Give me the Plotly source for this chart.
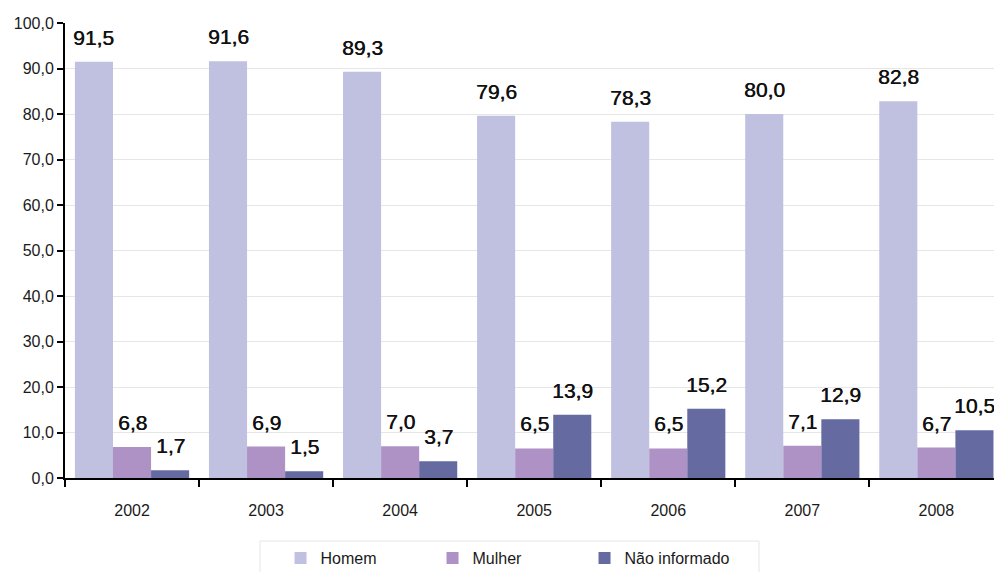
import plotly.graph_objects as go

years = ["2002", "2003", "2004", "2005", "2006", "2007", "2008"]
homem = [91.5, 91.6, 89.3, 79.6, 78.3, 80.0, 82.8]
mulher = [6.8, 6.9, 7.0, 6.5, 6.5, 7.1, 6.7]
nao_informado = [1.7, 1.5, 3.7, 13.9, 15.2, 12.9, 10.5]

series = [
    ("Homem", homem, "#C0C0E0"),
    ("Mulher", mulher, "#AE92C5"),
    ("Não informado", nao_informado, "#656AA0"),
]

FONT = "Liberation Sans, Arial, sans-serif"
bar_w = 0.284
offsets = [-bar_w, 0.0, bar_w]

fig = go.Figure()
annotations = []
for (name, vals, color), off in zip(series, offsets):
    xs = [i + off for i in range(len(years))]
    fig.add_trace(go.Bar(
        x=xs, y=vals, width=bar_w, name=name,
        marker=dict(color=color, line=dict(width=0)),
    ))
    for x, v in zip(xs, vals):
        annotations.append(dict(
            x=x, y=v, xref="x", yref="y",
            text=f"{v:.1f}".replace(".", ","),
            showarrow=False, yanchor="bottom", yshift=11,
            font=dict(family=FONT, size=21, color="#111111",
                      shadow="0.6px 0 0 #111111"),
        ))

# frame around the legend, wider than the legend's own box
fig.add_shape(
    type="rect", xref="paper", yref="paper",
    x0=0.2099, x1=0.747, y0=-0.30, y1=-0.1385,
    line=dict(color="#E6E6E6", width=1), fillcolor="rgba(0,0,0,0)",
    layer="below",
)

fig.update_layout(
    width=994, height=572,
    margin=dict(l=65, r=0, t=23, b=94, autoexpand=False),
    paper_bgcolor="white", plot_bgcolor="white",
    separators=",.",
    barmode="overlay",
    font=dict(family=FONT, size=15, color="#1A1A1A"),
    annotations=annotations,
    showlegend=True,
    legend=dict(
        orientation="h", x=0.232, xanchor="left",
        yref="container", y=0.054, yanchor="top",
        borderwidth=0, bgcolor="rgba(0,0,0,0)",
        font=dict(family=FONT, size=16, color="#1A1A1A"),
        entrywidth=107, itemwidth=30,
    ),
)

fig.update_xaxes(
    range=[-0.5, 6.43],
    tickvals=list(range(len(years))), ticktext=years,
    ticks="", showgrid=False, zeroline=False,
    showline=True, linecolor="black", linewidth=2,
    minor=dict(tickvals=[i - 0.5 for i in range(len(years) + 1)],
               ticks="outside", ticklen=7, tickcolor="black", tickwidth=2,
               showgrid=False),
    tickfont=dict(size=16),
    ticklabelstandoff=17,
)
fig.update_yaxes(
    range=[0, 100], dtick=10, tickformat=".1f",
    showgrid=True, gridcolor="#E6E6E6", gridwidth=1,
    zeroline=False,
    showline=True, linecolor="black", linewidth=2,
    ticks="outside", ticklen=6, tickcolor="black", tickwidth=2,
    tickfont=dict(size=16),
)

fig.write_html("out.html")
